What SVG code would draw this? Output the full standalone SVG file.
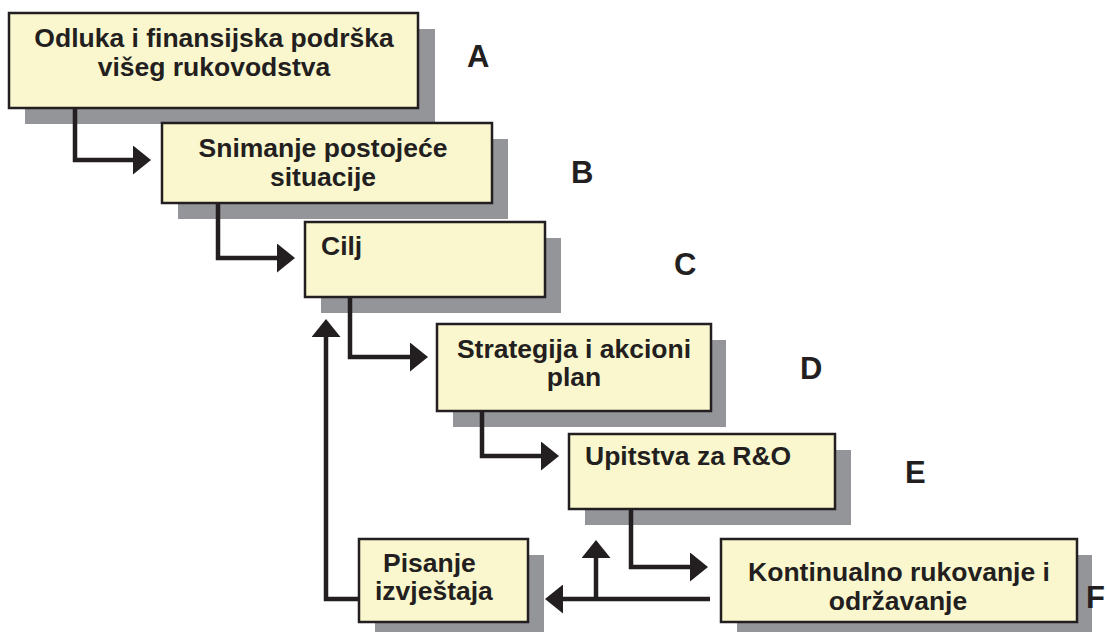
<svg xmlns="http://www.w3.org/2000/svg" width="1107" height="632" viewBox="0 0 1107 632">
  <style>
    .shadow { fill: #939598; }
    .box { fill: #FAF7CE; stroke: #231F20; stroke-width: 2.5; }
    .lbl { font-family: "Liberation Sans", Arial, sans-serif; font-weight: bold; font-size: 26.5px; fill: #231F20; }
    .mid { text-anchor: middle; }
    .tag { font-family: "Liberation Sans", Arial, sans-serif; font-weight: bold; font-size: 31px; fill: #231F20; }
    .wire { fill: none; stroke: #231F20; stroke-width: 4.5; stroke-linejoin: miter; }
  </style>
  <defs>
    <marker id="head" viewBox="0 0 18 29" refX="0" refY="14.5" markerWidth="18" markerHeight="29" markerUnits="userSpaceOnUse" orient="auto">
      <path d="M0,0 L18,14.5 L0,29 Z" fill="#231F20"/>
    </marker>
  </defs>
  <rect width="1107" height="632" fill="#FFFFFF"/>

  <!-- process steps -->
  <g id="node-a">
    <rect class="shadow" x="25" y="29" width="410" height="95"/>
    <rect class="box" x="9" y="13" width="409" height="95"/>
    <text class="lbl mid"><tspan x="214" y="47">Odluka i finansijska podrška</tspan><tspan x="214" y="76">višeg rukovodstva</tspan></text>
  </g>
  <g id="node-b">
    <rect class="shadow" x="178" y="139" width="330" height="80"/>
    <rect class="box" x="162" y="123" width="330" height="80"/>
    <text class="lbl mid"><tspan x="323" y="157">Snimanje postojeće</tspan><tspan x="323" y="186">situacije</tspan></text>
  </g>
  <g id="node-c">
    <rect class="shadow" x="321" y="238" width="240" height="75"/>
    <rect class="box" x="305" y="222" width="240" height="75"/>
    <text class="lbl" x="321" y="255">Cilj</text>
  </g>
  <g id="node-d">
    <rect class="shadow" x="453" y="340" width="273" height="87"/>
    <rect class="box" x="437" y="324" width="274" height="87"/>
    <text class="lbl mid"><tspan x="574" y="358">Strategija i akcioni</tspan><tspan x="574" y="386">plan</tspan></text>
  </g>
  <g id="node-e">
    <rect class="shadow" x="585" y="450" width="266" height="75"/>
    <rect class="box" x="569" y="434" width="266" height="75"/>
    <text class="lbl" x="585" y="465">Upitstva za R&amp;O</text>
  </g>
  <g id="node-f">
    <rect class="shadow" x="737" y="555" width="355" height="82"/>
    <rect class="box" x="721" y="539" width="356" height="83"/>
    <text class="lbl mid"><tspan x="899" y="581">Kontinualno rukovanje i</tspan><tspan x="898" y="610">održavanje</tspan></text>
  </g>
  <g id="node-report">
    <rect class="shadow" x="375" y="555" width="169" height="82"/>
    <rect class="box" x="359" y="539" width="169" height="83"/>
    <text class="lbl"><tspan x="383" y="572">Pisanje</tspan><tspan x="375" y="600">izvještaja</tspan></text>
  </g>

  <!-- step letters -->
  <g id="tags">
    <text class="tag" x="467" y="67">A</text>
    <text class="tag" x="571" y="183">B</text>
    <text class="tag" x="674" y="275">C</text>
    <text class="tag" x="800" y="379">D</text>
    <text class="tag" x="905" y="483">E</text>
    <text class="tag" x="1086" y="608">F</text>
  </g>

  <!-- flow lines -->
  <g id="connectors">
    <path class="wire" d="M75,108 V160 H133" marker-end="url(#head)"/>
    <path class="wire" d="M218,203 V258 H277" marker-end="url(#head)"/>
    <path class="wire" d="M350,297 V357 H410" marker-end="url(#head)"/>
    <path class="wire" d="M482,411 V456 H541" marker-end="url(#head)"/>
    <path class="wire" d="M631,509 V567 H690" marker-end="url(#head)"/>
    <path class="wire" d="M710,599 H563" marker-end="url(#head)"/>
    <path class="wire" d="M596,599 V558" marker-end="url(#head)"/>
    <path class="wire" d="M359,599 H326 V337" marker-end="url(#head)"/>
  </g>
</svg>
